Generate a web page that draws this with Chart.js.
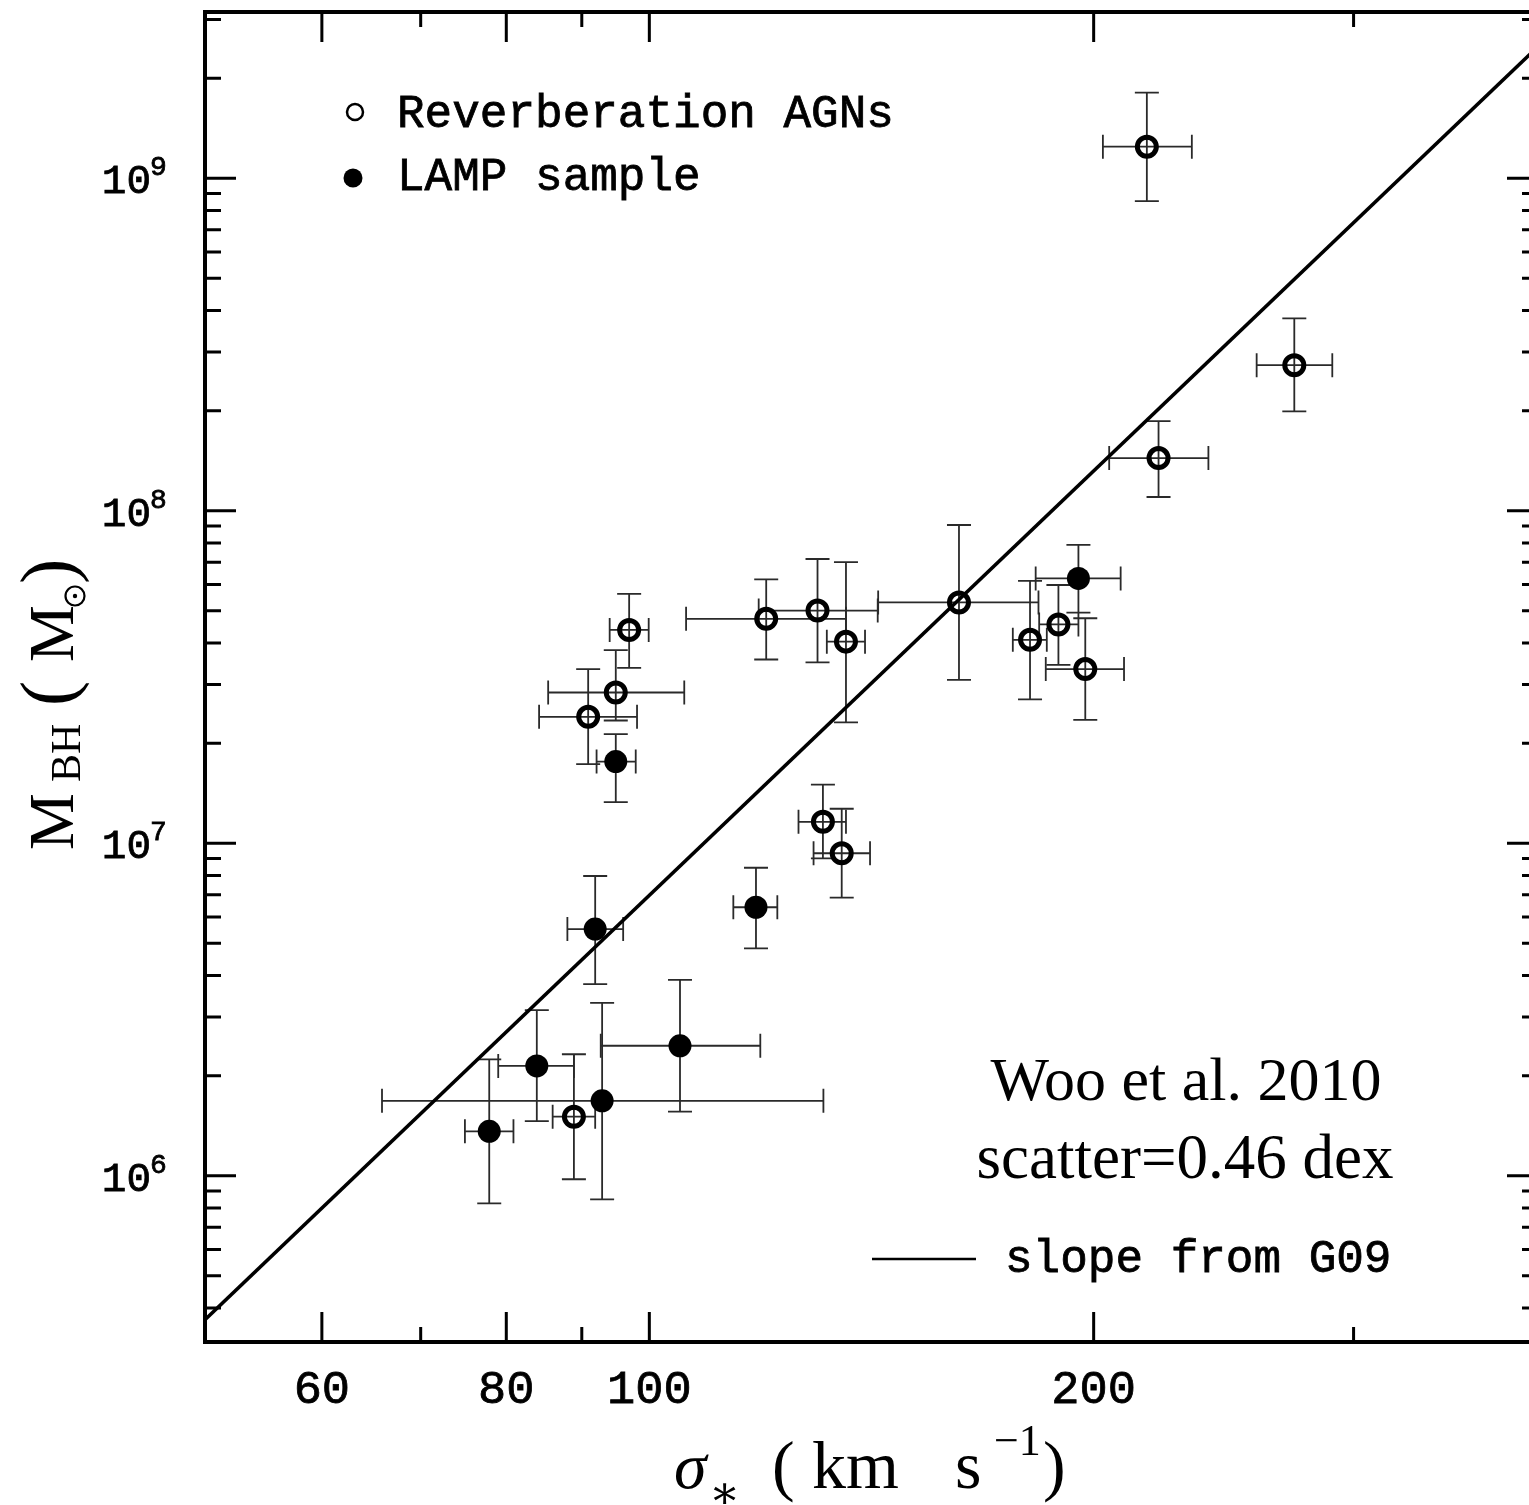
<!DOCTYPE html>
<html lang="en">
<head>
<meta charset="UTF-8">
<title>M_BH - sigma relation (Woo et al. 2010)</title>
<script src="https://cdn.jsdelivr.net/npm/chart.js"></script>
<style>
  html, body { margin: 0; padding: 0; background: #fff; overflow: hidden; }
  .wrap { width: 1529px; height: 1505px; overflow: hidden; position: relative; }
  #chart { display: block; position: absolute; left: 0; top: 0; }
</style>
</head>
<body>
<div class="wrap">
  <canvas id="chart" width="1540" height="1505"></canvas>
</div>
<script>
// Reverberation AGNs (open circles): sigma in km/s, M_BH in solar masses
const revSigma   = [96.9, 94.9, 90.9, 120.0, 130.0, 135.9, 162.1, 181.1, 189.3, 197.4, 88.9, 131.1, 135.0, 217.3, 273.5, 221.3];
const revSigmaLo = [94.0, 85.4, 84.2, 105.9, 118.6, 131.9, 142.9, 176.3, 183.7, 185.6, 86.0, 126.2, 129.2, 202.9, 257.9, 204.9];
const revSigmaHi = [99.9, 105.6, 98.1, 135.9, 142.8, 140.0, 183.5, 185.9, 195.3, 209.7, 91.9, 135.9, 141.1, 233.1, 290.2, 239.2];
const revMass    = [4.38e7, 2.84e7, 2.40e7, 4.73e7, 5.01e7, 4.04e7, 5.30e7, 4.09e7, 4.55e7, 3.34e7, 1.505e6, 1.16e7, 9.33e6, 1.244e9, 2.74e8, 1.44e8];
const revMassLo  = [3.37e7, 2.34e7, 1.73e7, 3.57e7, 3.50e7, 2.31e7, 3.10e7, 2.71e7, 3.44e7, 2.35e7, 9.76e5, 9.01e6, 6.86e6, 8.54e8, 1.99e8, 1.10e8];
const revMassHi  = [5.62e7, 3.81e7, 3.34e7, 6.22e7, 7.16e7, 7.01e7, 9.06e7, 6.15e7, 5.98e7, 4.75e7, 2.32e6, 1.50e7, 1.27e7, 1.81e9, 3.79e8, 1.86e8];

// LAMP sample (filled circles)
const lampSigma   = [94.9, 195.3, 83.9, 77.9, 92.9, 104.9, 118.1, 91.9];
const lampSigmaLo = [92.1, 182.7, 79.0, 75.0, 65.9, 92.7, 114.0, 88.0];
const lampSigmaHi = [97.9, 208.6, 88.9, 80.9, 131.2, 118.9, 122.1, 96.0];
const lampMass    = [1.76e7, 6.26e7, 2.14e6, 1.36e6, 1.68e6, 2.46e6, 6.42e6, 5.52e6];
const lampMassLo  = [1.33e7, 4.94e7, 1.46e6, 8.26e5, 8.49e5, 1.56e6, 4.83e6, 3.77e6];
const lampMassHi  = [2.13e7, 7.89e7, 3.15e6, 2.24e6, 3.31e6, 3.88e6, 8.44e6, 7.97e6];

// slope from G09 (end points read at the frame edges)
const g09Sigma = [50, 400];
const g09Mass  = [3.69e5, 2.49e9];

// axes
const xMin = 50, xMax = 400;
const yMin = 3.1623e5, yMax = 3.1623e9;
const xMajorTicks = [60, 80, 100, 200];
const xMinorTicks = [70, 90, 300];
const yMajorTicks = [1e6, 1e7, 1e8, 1e9];
const yMajorExp   = ['6', '7', '8', '9'];
const yMinorMult  = [2, 3, 4, 5, 6, 7, 8, 9];
const yDecades    = [1e5, 1e6, 1e7, 1e8, 1e9];

const MONO = '"Liberation Mono", "DejaVu Sans Mono", monospace';
const SERIF = '"Liberation Serif", "DejaVu Serif", serif';

function toPoints(xs, ys) {
    return xs.map((v, i) => ({ x: v, y: ys[i] }));
}

// mono text drawn a little heavier, like the plotting package
function monoText(ctx, str, x, y) {
    ctx.fillText(str, x, y);
    ctx.lineWidth = 0.8;
    ctx.strokeText(str, x, y);
}

// error bars with caps, drawn under the markers
const errorBars = {
    id: 'errorBars',
    beforeDatasetsDraw(chart) {
        const { ctx, scales: { x, y } } = chart;
        const cap = 12;
        ctx.save();
        ctx.strokeStyle = '#2a2a2a';
        ctx.lineWidth = 1.8;
        const draw = (s, sLo, sHi, m, mLo, mHi) => {
            for (let i = 0; i < s.length; i++) {
                const px = x.getPixelForValue(s[i]);
                const py = y.getPixelForValue(m[i]);
                const xl = x.getPixelForValue(sLo[i]);
                const xh = x.getPixelForValue(sHi[i]);
                const yl = y.getPixelForValue(mLo[i]);
                const yh = y.getPixelForValue(mHi[i]);
                ctx.beginPath();
                ctx.moveTo(xl, py); ctx.lineTo(xh, py);
                ctx.moveTo(xl, py - cap); ctx.lineTo(xl, py + cap);
                ctx.moveTo(xh, py - cap); ctx.lineTo(xh, py + cap);
                ctx.moveTo(px, yl); ctx.lineTo(px, yh);
                ctx.moveTo(px - cap, yl); ctx.lineTo(px + cap, yl);
                ctx.moveTo(px - cap, yh); ctx.lineTo(px + cap, yh);
                ctx.stroke();
            }
        };
        draw(revSigma, revSigmaLo, revSigmaHi, revMass, revMassLo, revMassHi);
        draw(lampSigma, lampSigmaLo, lampSigmaHi, lampMass, lampMassLo, lampMassHi);
        ctx.restore();
    }
};

// frame, inward ticks on all sides, labels and annotations
const frameAndText = {
    id: 'frameAndText',
    afterDraw(chart) {
        const { ctx, chartArea: a, scales: { x, y } } = chart;
        ctx.save();
        ctx.strokeStyle = '#000';
        ctx.fillStyle = '#000';

        // ticks
        ctx.lineWidth = 3;
        ctx.beginPath();
        const xt = (v, len) => {
            const p = x.getPixelForValue(v);
            ctx.moveTo(p, a.bottom); ctx.lineTo(p, a.bottom - len);
            ctx.moveTo(p, a.top); ctx.lineTo(p, a.top + len);
        };
        const yt = (v, len) => {
            const p = y.getPixelForValue(v);
            ctx.moveTo(a.left, p); ctx.lineTo(a.left + len, p);
            ctx.moveTo(a.right, p); ctx.lineTo(a.right - len, p);
        };
        xMajorTicks.forEach(v => xt(v, 30));
        xMinorTicks.forEach(v => xt(v, 15));
        yMajorTicks.forEach(v => yt(v, 31));
        yDecades.forEach(d => yMinorMult.forEach(m => {
            const v = d * m;
            if (v > yMin && v < yMax) yt(v, 16);
        }));
        ctx.stroke();

        // frame
        ctx.lineWidth = 4;
        ctx.strokeRect(a.left, a.top, a.right - a.left, a.bottom - a.top);

        // x tick labels
        ctx.font = '47px ' + MONO;
        ctx.textAlign = 'center';
        ctx.textBaseline = 'alphabetic';
        xMajorTicks.forEach(v => monoText(ctx, String(v), x.getPixelForValue(v), 1403));

        // y tick labels: 10^n
        yMajorTicks.forEach((v, i) => {
            const p = y.getPixelForValue(v);
            ctx.font = '41px ' + MONO;
            ctx.textAlign = 'right';
            monoText(ctx, '10', 151, p + 15);
            ctx.font = '28px ' + MONO;
            ctx.textAlign = 'left';
            monoText(ctx, yMajorExp[i], 150, p - 3);
        });

        // x axis title: sigma_* (km s^-1)
        ctx.textAlign = 'left';
        ctx.font = 'italic 66px ' + SERIF;
        ctx.fillText('\u03c3', 674, 1488);
        ctx.font = '46px ' + SERIF;
        ctx.fillText('\u2217', 709, 1508);
        ctx.font = '68px ' + SERIF;
        ctx.fillText('(', 772, 1488);
        ctx.fillText('km', 812, 1488);
        ctx.fillText('s', 955, 1488);
        ctx.font = '44px ' + SERIF;
        ctx.fillText('\u22121', 994, 1455);
        ctx.font = '68px ' + SERIF;
        ctx.fillText(')', 1043, 1488);

        // y axis title: M_BH (M_sun), rotated
        ctx.save();
        ctx.translate(73, 0);
        ctx.rotate(-Math.PI / 2);
        ctx.font = '64px ' + SERIF;
        ctx.fillText('M', -850, 0);
        ctx.font = '42px ' + SERIF;
        ctx.fillText('BH', -782, 7);
        ctx.font = '76px ' + SERIF;
        ctx.fillText('(', -706, 0);
        ctx.font = '64px ' + SERIF;
        ctx.fillText('M', -662, 0);
        ctx.lineWidth = 2.2;
        ctx.beginPath();
        ctx.arc(-596, 2, 9.5, 0, Math.PI * 2);
        ctx.stroke();
        ctx.beginPath();
        ctx.arc(-596, 2, 2.2, 0, Math.PI * 2);
        ctx.fill();
        ctx.font = '76px ' + SERIF;
        ctx.fillText(')', -584, 0);
        ctx.restore();

        // legend
        ctx.lineWidth = 2.5;
        ctx.beginPath();
        ctx.arc(355, 112, 8, 0, Math.PI * 2);
        ctx.stroke();
        ctx.beginPath();
        ctx.arc(353, 178, 9.5, 0, Math.PI * 2);
        ctx.fill();
        ctx.font = '46px ' + MONO;
        ctx.textAlign = 'left';
        monoText(ctx, 'Reverberation AGNs', 397, 127);
        monoText(ctx, 'LAMP sample', 397, 190);

        // annotation
        ctx.textAlign = 'center';
        ctx.font = '62px ' + SERIF;
        ctx.fillText('Woo et al. 2010', 1186, 1100);
        ctx.font = '63px ' + SERIF;
        ctx.fillText('scatter=0.46 dex', 1185, 1178);

        ctx.lineWidth = 2.5;
        ctx.beginPath();
        ctx.moveTo(872, 1259); ctx.lineTo(976, 1259);
        ctx.stroke();
        ctx.font = '46px ' + MONO;
        ctx.textAlign = 'left';
        monoText(ctx, 'slope from G09', 1005, 1272);

        ctx.restore();
    }
};

const ctx = document.getElementById('chart').getContext('2d');
new Chart(ctx, {
    type: 'scatter',
    data: {
        datasets: [
            {
                label: 'slope from G09',
                data: toPoints(g09Sigma, g09Mass),
                showLine: true,
                borderColor: '#000',
                borderWidth: 3.5,
                pointRadius: 0,
                fill: false
            },
            {
                label: 'Reverberation AGNs',
                data: toPoints(revSigma, revMass),
                pointRadius: 9.5,
                pointBorderWidth: 5,
                pointBorderColor: '#000',
                pointBackgroundColor: 'rgba(0,0,0,0)'
            },
            {
                label: 'LAMP sample',
                data: toPoints(lampSigma, lampMass),
                pointRadius: 11.5,
                pointBorderWidth: 0,
                pointBorderColor: '#000',
                pointBackgroundColor: '#000'
            }
        ]
    },
    options: {
        responsive: false,
        animation: false,
        layout: { autoPadding: false, padding: { left: 205, top: 12, right: 2, bottom: 163 } },
        plugins: {
            legend: { display: false },
            tooltip: { enabled: false }
        },
        scales: {
            x: { type: 'logarithmic', min: xMin, max: xMax, display: false },
            y: { type: 'logarithmic', min: yMin, max: yMax, display: false }
        }
    },
    plugins: [errorBars, frameAndText]
});
</script>
</body>
</html>
